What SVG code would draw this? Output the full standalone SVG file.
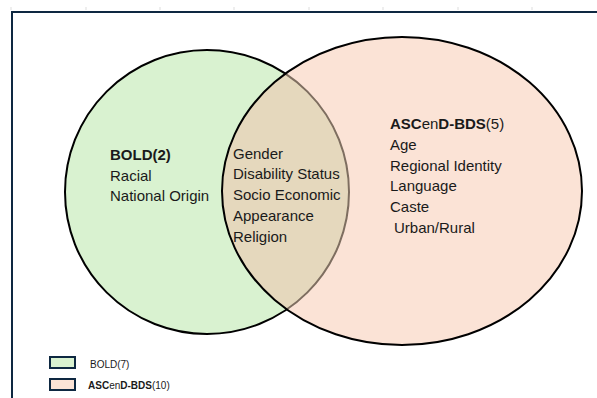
<svg xmlns="http://www.w3.org/2000/svg" width="597" height="398" viewBox="0 0 597 398">
<style>
text{font-family:"Liberation Sans",Arial,sans-serif;fill:#1a1a1a}
.t{font-size:15px}
.b{font-weight:bold}
.lg{font-size:10px}
.frame{stroke:#0e2841;stroke-width:2;fill:none}
.tick{stroke:#dddddd;stroke-width:1}
.key{stroke:#0e2841;stroke-width:2}
</style>
<defs>
<clipPath id="pinkClip"><ellipse cx="402" cy="191" rx="180" ry="154"/></clipPath>
</defs>
<rect width="597" height="398" fill="#ffffff"/>
<g id="ruler">
<line class="tick" x1="11" y1="7" x2="11" y2="10"/>
<line class="tick" x1="86" y1="7" x2="86" y2="10"/>
<line class="tick" x1="160" y1="7" x2="160" y2="10"/>
<line class="tick" x1="234" y1="7" x2="234" y2="10"/>
<line class="tick" x1="309" y1="7" x2="309" y2="10"/>
<line class="tick" x1="383" y1="7" x2="383" y2="10"/>
<line class="tick" x1="458" y1="7" x2="458" y2="10"/>
<line class="tick" x1="532" y1="7" x2="532" y2="10"/>
</g>
<path class="frame" d="M12 398 V12 H597"/>
<g id="bold-set">
<circle cx="207" cy="192" r="142" fill="#d9f2d0" stroke="#000" stroke-width="2"/>
</g>
<g id="ascend-set">
<ellipse cx="402" cy="191" rx="180" ry="154" fill="#fbe3d6"/>
</g>
<g id="overlap">
<circle cx="207" cy="192" r="142" fill="#e5d8bd" stroke="#7e6e60" stroke-width="2" clip-path="url(#pinkClip)"/>
</g>
<ellipse cx="402" cy="191" rx="180" ry="154" fill="none" stroke="#000" stroke-width="2"/>
<g id="bold-text">
<text class="t b" x="110" y="160">BOLD(2)</text>
<text class="t" x="110" y="180.5">Racial</text>
<text class="t" x="110" y="201">National Origin</text>
</g>
<g id="shared-text">
<text class="t" x="233" y="158.5">Gender</text>
<text class="t" x="233" y="179.3">Disability Status</text>
<text class="t" x="233" y="200">Socio Economic</text>
<text class="t" x="233" y="220.8">Appearance</text>
<text class="t" x="233" y="241.6">Religion</text>
</g>
<g id="ascend-text">
<text class="t" x="390" y="129"><tspan class="b">ASC</tspan>en<tspan class="b">D-BDS</tspan>(5)</text>
<text class="t" x="390" y="149.8">Age</text>
<text class="t" x="390" y="170.6">Regional Identity</text>
<text class="t" x="390" y="191.4">Language</text>
<text class="t" x="390" y="212.2">Caste</text>
<text class="t" x="394" y="233">Urban/Rural</text>
</g>
<g id="legend">
<rect class="key" x="50" y="357" width="25" height="11" fill="#d9f2d0"/>
<text class="lg" x="90" y="367.5">BOLD(7)</text>
<rect class="key" x="50" y="379" width="25" height="11" fill="#fbe3d6"/>
<text class="lg" x="88" y="388.5"><tspan class="b">ASC</tspan>en<tspan class="b">D-BDS</tspan>(10)</text>
</g>
</svg>
